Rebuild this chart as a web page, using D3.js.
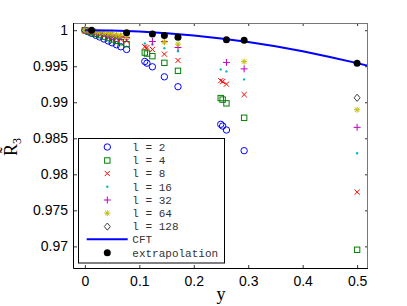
<!DOCTYPE html>
<html><head><meta charset="utf-8">
<script src="https://cdn.jsdelivr.net/npm/d3@7"></script>
<style>body{margin:0;background:#fff}</style>
</head><body>
<svg id="c" width="407" height="306"></svg>
<script>
// ---- data ----
const yGrid = [0, 0.006, 0.0123, 0.02, 0.027, 0.035, 0.043, 0.05, 0.058, 0.066, 0.0766,
  0.110, 0.114, 0.124, 0.146, 0.171, 0.2495, 0.253, 0.260, 0.2925, 0.5];
const l2   = [1.0, 0.99979, 0.99957, 0.9993, 0.99906, 0.99878, 0.9985, 0.99825, 0.99798, 0.9977, 0.99733,
  0.99566, 0.99543, 0.99492, 0.99353, 0.99216, 0.98694, 0.98670, 0.98615, 0.98328, null];
const l4   = [1.0, 0.99985, 0.99969, 0.99949, 0.99932, 0.99911, 0.99891, 0.99873, 0.99853, 0.99833, 0.99806,
  0.99690, 0.99676, 0.99640, 0.99547, 0.99436, 0.99058, 0.99037, 0.98985, 0.98785, 0.96953];
const l8   = [1.0, 0.99988, 0.99976, 0.99961, 0.99948, 0.99932, 0.99917, 0.99903, 0.99888, 0.99873, 0.99852,
  0.99770, 0.99760, 0.99733, 0.99668, 0.99580, 0.99300, 0.99287, 0.99252, 0.99107, 0.97752];
const l16  = [1.0, 0.9999, 0.9998, 0.99967, 0.99956, 0.99943, 0.9993, 0.99918, 0.99905, 0.99892, 0.99875,
  0.99816, null, 0.99802, 0.99751, 0.99709, 0.99456, null, 0.99428, 0.99317, 0.98292];
const l32  = [1.0, 0.99992, 0.99984, 0.99974, 0.99964, 0.99954, 0.99943, 0.99934, 0.99923, 0.99913, 0.99899,
  null, null, 0.99843, 0.99843, 0.99760, null, null, 0.99553, 0.99463, 0.98652];
const l64  = [1.0, 0.99994, 0.99987, 0.99978, 0.99971, 0.99962, 0.99954, 0.99946, 0.99937, 0.99929, 0.99917,
  null, null, null, 0.99834, 0.99806, null, null, null, 0.99564, 0.98896];
const l128 = [null, null, null, null, null, null, null, null, null, null, null,
  null, null, null, null, null, null, null, null, null, 0.99062];
const seriesLabels = ["l = 2", "l = 4", "l = 8", "l = 16", "l = 32", "l = 64", "l = 128"];
const cftY = [0, 0.05, 0.1, 0.15, 0.2, 0.25, 0.3, 0.35, 0.4, 0.45, 0.5, 0.52];
const cftR = [1.0, 0.99995, 0.99982, 0.99959, 0.99927, 0.99886, 0.99835, 0.99776, 0.99707, 0.99629, 0.99543, 0.99505];
const extY = [0.0123, 0.0766, 0.124, 0.146, 0.171, 0.26, 0.2925, 0.5];
const extR = [0.99998, 0.99965, 0.99949, 0.99927, 0.99903, 0.99868, 0.99859, 0.99543];
const xTicks = [0, 0.1, 0.2, 0.3, 0.4, 0.5];
const yTicks = [0.97, 0.975, 0.98, 0.985, 0.99, 0.995, 1];

// ---- layout ----
const L = 74, R = 368, T = 23, B = 268;
const svg = d3.select("#c");
const x = d3.scaleLinear().domain([-0.02, 0.52]).range([L, R]);
const y = d3.scaleLinear().domain([0.967, 1.001]).range([B, T]);

const styles = [
  {c: "#0000ff", m: "o"}, {c: "#008000", m: "s"}, {c: "#ff0000", m: "x"},
  {c: "#00bfbf", m: "."}, {c: "#bf00bf", m: "+"}, {c: "#bfbf00", m: "*"}, {c: "#404040", m: "d"}
];
const allSeries = [l2, l4, l8, l16, l32, l64, l128];

function marker(g, m, c, px, py) {
  if (m === "o") g.append("circle").attr("cx", px).attr("cy", py).attr("r", 3.2).attr("fill", "none").attr("stroke", c).attr("stroke-width", 1);
  else if (m === "s") g.append("rect").attr("x", px - 2.7).attr("y", py - 2.7).attr("width", 5.4).attr("height", 5.4).attr("fill", "none").attr("stroke", c).attr("stroke-width", 1);
  else if (m === "x") g.append("path").attr("d", `M${px-2.6},${py-2.6}L${px+2.6},${py+2.6}M${px-2.6},${py+2.6}L${px+2.6},${py-2.6}`).attr("stroke", c).attr("stroke-width", 1);
  else if (m === ".") g.append("circle").attr("cx", px).attr("cy", py).attr("r", 1.2).attr("fill", c);
  else if (m === "+") g.append("path").attr("d", `M${px-3.5},${py}L${px+3.5},${py}M${px},${py-3.5}L${px},${py+3.5}`).attr("stroke", c).attr("stroke-width", 1);
  else if (m === "*") g.append("path").attr("d", `M${px-3},${py}L${px+3},${py}M${px},${py-3}L${px},${py+3}M${px-2.2},${py-2.2}L${px+2.2},${py+2.2}M${px-2.2},${py+2.2}L${px+2.2},${py-2.2}`).attr("stroke", c).attr("stroke-width", 1);
  else if (m === "d") g.append("path").attr("d", `M${px},${py-3.6}L${px+3},${py}L${px},${py+3.6}L${px-3},${py}Z`).attr("fill", "none").attr("stroke", c).attr("stroke-width", 1);
}

svg.append("defs").append("clipPath").attr("id", "clip").append("rect")
  .attr("x", L).attr("y", T).attr("width", R - L).attr("height", B - T);
const plot = svg.append("g").attr("clip-path", "url(#clip)");

allSeries.forEach((vals, i) => {
  const g = plot.append("g");
  vals.forEach((v, j) => { if (v !== null) marker(g, styles[i].m, styles[i].c, x(yGrid[j]), y(v)); });
});

plot.append("path").datum(cftY.map((d, i) => [d, cftR[i]]))
  .attr("d", d3.line().x(d => x(d[0])).y(d => y(d[1])))
  .attr("fill", "none").attr("stroke", "#0000ff").attr("stroke-width", 2);

plot.selectAll("circle.ext").data(extY).enter().append("circle").attr("class", "ext")
  .attr("cx", d => x(d)).attr("cy", (d, i) => y(extR[i])).attr("r", 3.5).attr("fill", "#000");

// ---- axes ----
const font = "'Liberation Sans', Arial, sans-serif";
const xb = svg.append("g").attr("transform", `translate(0,${B})`)
  .call(d3.axisBottom(x).tickValues(xTicks).tickSizeInner(-3).tickSizeOuter(0).tickPadding(8).tickFormat(d3.format("")));
const xt = svg.append("g").attr("transform", `translate(0,${T})`)
  .call(d3.axisTop(x).tickValues(xTicks).tickSizeInner(-3).tickSizeOuter(0).tickFormat(""));
const yl = svg.append("g").attr("transform", `translate(${L},0)`)
  .call(d3.axisLeft(y).tickValues(yTicks).tickSizeInner(-3).tickSizeOuter(0).tickPadding(6).tickFormat(d3.format("")));
const yr = svg.append("g").attr("transform", `translate(${R},0)`)
  .call(d3.axisRight(y).tickValues(yTicks).tickSizeInner(-3).tickSizeOuter(0).tickFormat(""));
[xb, xt, yl, yr].forEach(g => {
  g.select(".domain").remove();
  g.selectAll("line").attr("stroke", "#333");
  g.selectAll("text").attr("font-family", font).attr("font-size", 14).attr("fill", "#000");
});
xb.selectAll("text").attr("dy", "0.71em");
svg.append("line").attr("x1", L).attr("x2", R).attr("y1", T + 0.5).attr("y2", T + 0.5).attr("stroke", "#777");
svg.append("line").attr("x1", R - 0.5).attr("x2", R - 0.5).attr("y1", T).attr("y2", B).attr("stroke", "#777");
svg.append("line").attr("x1", L - 0.5).attr("x2", L - 0.5).attr("y1", T).attr("y2", B + 0.5).attr("stroke", "#000");
svg.append("line").attr("x1", L - 0.5).attr("x2", R).attr("y1", B + 0.5).attr("y2", B + 0.5).attr("stroke", "#000");

// axis labels
svg.append("text").attr("x", 221).attr("y", 300).attr("text-anchor", "middle")
  .attr("font-family", "'Liberation Serif', 'Times New Roman', serif").attr("font-size", 18).text("y");
const ylab = svg.append("text").attr("transform", "translate(17,147) rotate(-90)").attr("text-anchor", "middle")
  .attr("font-family", "'Liberation Serif', 'Times New Roman', serif").attr("font-size", 18);
ylab.append("tspan").text("R\u0303");
ylab.append("tspan").attr("font-size", 12).attr("dy", 4).text("3");

// ---- legend ----
const lg = svg.append("g");
lg.append("rect").attr("x", 78.5).attr("y", 138.5).attr("width", 146).attr("height", 124.5)
  .attr("fill", "#fff").attr("stroke", "#000").attr("stroke-width", 1);
const rowY = [147, 160.5, 173.5, 186.8, 200, 213.2, 226.6, 239.2, 252.7];
const monos = "'Liberation Mono', 'Courier New', monospace";
seriesLabels.forEach((t, i) => {
  marker(lg, styles[i].m, styles[i].c, 107.3, rowY[i]);
  lg.append("text").attr("x", 132.3).attr("y", rowY[i]).attr("dy", "0.35em")
    .attr("font-family", monos).attr("font-size", 11).attr("fill", "#333").text(t);
});
lg.append("line").attr("x1", 86.7).attr("x2", 127.7).attr("y1", rowY[7]).attr("y2", rowY[7])
  .attr("stroke", "#0000ff").attr("stroke-width", 2);
lg.append("text").attr("x", 132.3).attr("y", rowY[7]).attr("dy", "0.35em")
  .attr("font-family", monos).attr("font-size", 11).attr("fill", "#333").text("CFT");
lg.append("circle").attr("cx", 107.3).attr("cy", rowY[8]).attr("r", 3.5).attr("fill", "#000");
lg.append("text").attr("x", 132.3).attr("y", rowY[8]).attr("dy", "0.35em")
  .attr("font-family", monos).attr("font-size", 11).attr("fill", "#333").text("extrapolation");
</script>
</body></html>
